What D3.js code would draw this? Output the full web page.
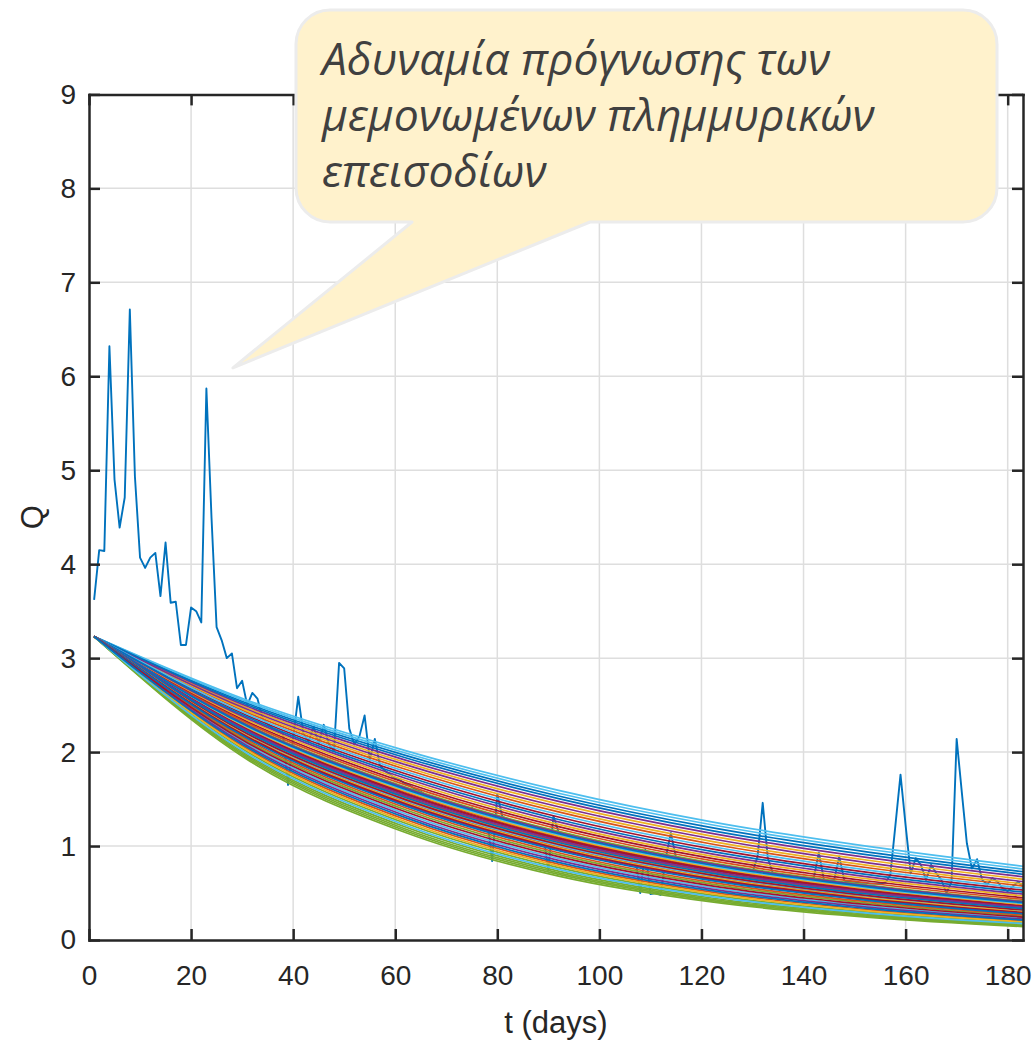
<!DOCTYPE html>
<html>
<head>
<meta charset="utf-8">
<script src="https://cdn.jsdelivr.net/npm/d3@7"></script>
<style>
  body { margin: 0; background: #ffffff; }
  svg { display: block; }
</style>
</head>
<body>
<svg id="chart" width="1033" height="1042"></svg>
<script>
// ---------------- DATA ----------------
const xTicks = [0, 20, 40, 60, 80, 100, 120, 140, 160, 180];
const yTicks = [0, 1, 2, 3, 4, 5, 6, 7, 8, 9];
const xLabel = "t (days)";
const yLabel = "Q";
const calloutLines = ["Αδυναμία πρόγνωσης των", "μεμονωμένων πλημμυρικών", "επεισοδίων"];

// observed discharge, one value per day (t = 1 ... 183)
const observedQ = [
  3.62, 4.15, 4.14, 6.32, 4.90, 4.39, 4.71, 6.71, 4.93, 4.07,
  3.96, 4.07, 4.12, 3.66, 4.23, 3.59, 3.60, 3.14, 3.14, 3.54,
  3.50, 3.38, 5.87, 4.50, 3.33, 3.19, 3.00, 3.05, 2.68, 2.76,
  2.50, 2.63, 2.57, 2.36, 2.30, 2.25, 2.22, 2.20, 1.65, 2.15,
  2.59, 2.20, 2.11, 2.27, 2.09, 2.29, 2.08, 2.02, 2.95, 2.89,
  2.25, 2.08, 2.17, 2.39, 1.92, 2.14, 1.86, 1.80, 1.76, 1.72,
  1.70, 1.66, 1.64, 1.60, 1.58, 1.54, 1.53, 1.50, 1.47, 1.45,
  1.44, 1.42, 1.40, 1.38, 1.41, 1.35, 1.33, 1.30, 0.84, 1.55,
  1.31, 1.29, 1.27, 1.25, 1.22, 1.20, 1.18, 1.16, 1.14, 0.74,
  1.32, 1.15, 1.12, 1.10, 1.08, 1.06, 1.05, 1.03, 1.01, 1.00,
  0.98, 0.97, 0.95, 0.94, 0.92, 0.91, 0.90, 0.50, 0.96, 0.49,
  0.50, 0.48, 0.87, 1.14, 0.88, 0.86, 0.85, 0.84, 0.82, 0.81,
  0.80, 0.79, 0.78, 0.77, 0.76, 0.75, 0.75, 0.74, 0.73, 0.72,
  0.89, 1.46, 0.87, 0.71, 0.70, 0.69, 0.68, 0.68, 0.67, 0.66,
  0.65, 0.66, 0.93, 0.64, 0.63, 0.64, 0.89, 0.63, 0.62, 0.62,
  0.61, 0.61, 0.60, 0.60, 0.60, 0.61, 0.69, 1.22, 1.76, 1.22,
  0.71, 0.87, 0.80, 0.64, 0.80, 0.71, 0.64, 0.50, 0.62, 2.14,
  1.58, 1.03, 0.76, 0.86, 0.64, 0.59, 0.66, 0.62, 0.55, 0.52,
  0.57, 0.62, 0.57
];

// forecast ensemble: days at which each member's values were read
const ensembleDays = [1, 31, 62, 92, 122, 153, 183];
// ensemble members, in plotting order (values at ensembleDays)
const ensembleMembers = [
  [3.23, 2.423, 1.817, 1.363, 1.022, 0.766, 0.575],
  [3.23, 2.471, 1.890, 1.446, 1.106, 0.846, 0.647],
  [3.23, 2.487, 1.915, 1.475, 1.135, 0.874, 0.673],
  [3.23, 2.293, 1.628, 1.156, 0.821, 0.583, 0.414],
  [3.23, 2.552, 2.016, 1.593, 1.258, 0.994, 0.785],
  [3.23, 2.390, 1.769, 1.309, 0.969, 0.717, 0.530],
  [3.23, 2.519, 1.965, 1.533, 1.196, 0.933, 0.727],

  [3.23, 2.309, 1.651, 1.181, 0.844, 0.604, 0.432],
  [3.23, 2.439, 1.841, 1.390, 1.050, 0.792, 0.598],
  [3.23, 2.455, 1.866, 1.418, 1.078, 0.819, 0.622],
  [3.23, 2.116, 1.386, 0.908, 0.595, 0.389, 0.255],
  [3.23, 2.536, 1.990, 1.562, 1.227, 0.963, 0.756],
  [3.23, 2.326, 1.674, 1.206, 0.868, 0.625, 0.450],
  [3.23, 2.503, 1.940, 1.504, 1.165, 0.903, 0.700],

  [3.23, 2.253, 1.572, 1.096, 0.765, 0.534, 0.372],
  [3.23, 2.342, 1.698, 1.231, 0.892, 0.647, 0.469],
  [3.23, 2.358, 1.721, 1.257, 0.917, 0.670, 0.489],
  [3.23, 2.003, 1.242, 0.770, 0.477, 0.296, 0.183],
  [3.23, 2.406, 1.793, 1.336, 0.995, 0.741, 0.552],
  [3.23, 2.245, 1.560, 1.084, 0.754, 0.524, 0.364],
  [3.23, 2.374, 1.745, 1.283, 0.943, 0.693, 0.509],

  [3.23, 2.221, 1.527, 1.050, 0.722, 0.496, 0.342],
  [3.23, 2.261, 1.583, 1.108, 0.776, 0.543, 0.380],
  [3.23, 2.285, 1.617, 1.144, 0.810, 0.573, 0.406],
  [3.23, 1.970, 1.202, 0.733, 0.447, 0.273, 0.166],
  [3.23, 2.269, 1.594, 1.120, 0.787, 0.553, 0.389],
  [3.23, 2.237, 1.549, 1.073, 0.743, 0.515, 0.357],
  [3.23, 2.277, 1.605, 1.132, 0.798, 0.563, 0.397],

  [3.23, 2.180, 1.472, 0.993, 0.671, 0.453, 0.306],
  [3.23, 2.205, 1.505, 1.027, 0.701, 0.479, 0.327],
  [3.23, 2.229, 1.538, 1.061, 0.732, 0.505, 0.349],
  [3.23, 1.954, 1.182, 0.715, 0.433, 0.262, 0.158],
  [3.23, 2.188, 1.483, 1.005, 0.681, 0.462, 0.313],
  [3.23, 2.196, 1.494, 1.016, 0.691, 0.470, 0.319],
  [3.23, 2.213, 1.516, 1.038, 0.711, 0.487, 0.334],

  [3.23, 2.132, 1.407, 0.929, 0.613, 0.405, 0.267],
  [3.23, 2.172, 1.461, 0.982, 0.661, 0.445, 0.299],
  [3.23, 2.156, 1.439, 0.961, 0.642, 0.428, 0.286],
  [3.23, 1.938, 1.163, 0.698, 0.419, 0.251, 0.151],
  [3.23, 2.083, 1.344, 0.867, 0.559, 0.361, 0.233],
  [3.23, 2.164, 1.450, 0.971, 0.651, 0.436, 0.292],
  [3.23, 2.148, 1.428, 0.950, 0.632, 0.420, 0.279],

  [3.23, 2.035, 1.282, 0.808, 0.509, 0.321, 0.202],
  [3.23, 2.019, 1.262, 0.789, 0.493, 0.308, 0.193],
  [3.23, 2.067, 1.323, 0.847, 0.542, 0.347, 0.222],
  [3.23, 1.922, 1.144, 0.680, 0.405, 0.241, 0.143],
  [3.23, 1.986, 1.222, 0.751, 0.462, 0.284, 0.175],
  [3.23, 2.100, 1.365, 0.887, 0.577, 0.375, 0.244],
  [3.23, 2.051, 1.302, 0.827, 0.525, 0.333, 0.212]
];

// callout pointer tip, in data units (t, Q)
const calloutTip = [28.2, 6.09];

// ---------------- LAYOUT / STYLE ----------------
const colorOrder = ["#0072BD", "#D95319", "#EDB120", "#7E2F8E", "#77AC30", "#4DBEEE", "#A2142F"];
const plot = { left: 89, right: 1023, top: 94.4, bottom: 940 };
const axisColor = "#262626";
const gridColor = "#dedede";

const svg = d3.select("#chart");
const x = d3.scaleLinear().domain([0, 183]).range([plot.left, plot.right]);
const y = d3.scaleLinear().domain([0, 9]).range([plot.bottom, plot.top]);

svg.append("defs").append("clipPath").attr("id", "plotClip")
  .append("rect")
  .attr("x", plot.left).attr("y", plot.top)
  .attr("width", plot.right - plot.left).attr("height", plot.bottom - plot.top);

// grid
const grid = svg.append("g");
grid.selectAll("line.gx").data(xTicks.filter(d => d > 0)).join("line")
  .attr("x1", d => x(d)).attr("x2", d => x(d))
  .attr("y1", plot.top).attr("y2", plot.bottom)
  .attr("stroke", gridColor).attr("stroke-width", 1.5);
grid.selectAll("line.gy").data(yTicks.filter(d => d > 0 && d < 9)).join("line")
  .attr("x1", plot.left).attr("x2", plot.right)
  .attr("y1", d => y(d)).attr("y2", d => y(d))
  .attr("stroke", gridColor).attr("stroke-width", 1.5);

const lines = svg.append("g").attr("clip-path", "url(#plotClip)");

// observed series
const obsLine = d3.line().x((d, i) => x(i + 1)).y(d => y(d));
lines.append("path")
  .attr("d", obsLine(observedQ))
  .attr("fill", "none")
  .attr("stroke", colorOrder[0])
  .attr("stroke-width", 1.9)
  .attr("stroke-linejoin", "round");

// ensemble members
const ensLine = d3.line()
  .x((d, i) => x(ensembleDays[i]))
  .y(d => y(d))
  .curve(d3.curveMonotoneX);
lines.selectAll("path.member").data(ensembleMembers).join("path")
  .attr("class", "member")
  .attr("d", d => ensLine(d))
  .attr("fill", "none")
  .attr("stroke", (d, i) => colorOrder[(i + 1) % colorOrder.length])
  .attr("stroke-width", 1.7);

// axes
const tickFont = "'Liberation Sans', Arial, Helvetica, sans-serif";
function styleAxis(g) {
  g.select(".domain").attr("stroke", axisColor).attr("stroke-width", 2.5);
  g.selectAll(".tick line").attr("stroke", axisColor).attr("stroke-width", 2.5);
  g.selectAll(".tick text").attr("fill", axisColor)
    .attr("font-family", tickFont).attr("font-size", 28);
}
svg.append("g").attr("transform", `translate(0,${plot.bottom})`)
  .call(d3.axisBottom(x).tickValues(xTicks).tickSizeInner(-11).tickSizeOuter(0).tickPadding(25))
  .call(styleAxis);
svg.append("g").attr("transform", `translate(0,${plot.top})`)
  .call(d3.axisTop(x).tickValues(xTicks).tickSizeInner(-11).tickSizeOuter(0).tickFormat(""))
  .call(styleAxis);
svg.append("g").attr("transform", `translate(${plot.left},0)`)
  .call(d3.axisLeft(y).tickValues(yTicks).tickSizeInner(-11).tickSizeOuter(0).tickPadding(13))
  .call(styleAxis);
svg.append("g").attr("transform", `translate(${plot.right},0)`)
  .call(d3.axisRight(y).tickValues(yTicks).tickSizeInner(-11).tickSizeOuter(0).tickFormat(""))
  .call(styleAxis);
svg.selectAll(".domain").attr("stroke-linecap", "square");

// axis labels
svg.append("text")
  .attr("x", (plot.left + plot.right) / 2).attr("y", 1033)
  .attr("text-anchor", "middle")
  .attr("font-family", tickFont).attr("font-size", 31).attr("fill", axisColor)
  .text(xLabel);
svg.append("text")
  .attr("transform", `translate(43,${(plot.top + plot.bottom) / 2}) rotate(-90)`)
  .attr("text-anchor", "middle")
  .attr("font-family", tickFont).attr("font-size", 31).attr("fill", axisColor)
  .text(yLabel);

// callout
const box = { left: 296, top: 10, right: 997, bottom: 222, r: 34, tailL: 412, tailR: 590 };
const tipX = x(calloutTip[0]), tipY = y(calloutTip[1]);
const p = d3.path();
p.moveTo(box.left + box.r, box.top);
p.lineTo(box.right - box.r, box.top);
p.arcTo(box.right, box.top, box.right, box.top + box.r, box.r);
p.lineTo(box.right, box.bottom - box.r);
p.arcTo(box.right, box.bottom, box.right - box.r, box.bottom, box.r);
p.lineTo(box.tailR, box.bottom);
p.lineTo(tipX, tipY);
p.lineTo(box.tailL, box.bottom);
p.lineTo(box.left + box.r, box.bottom);
p.arcTo(box.left, box.bottom, box.left, box.bottom - box.r, box.r);
p.lineTo(box.left, box.top + box.r);
p.arcTo(box.left, box.top, box.left + box.r, box.top, box.r);
p.closePath();
svg.append("path")
  .attr("d", p.toString())
  .attr("fill", "#FFF2CC")
  .attr("stroke", "#ececec")
  .attr("stroke-width", 3)
  .attr("stroke-linejoin", "round");

svg.append("g").selectAll("text").data(calloutLines).join("text")
  .attr("x", 322)
  .attr("y", (d, i) => 75 + i * 56)
  .attr("font-family", "'Open Sans', 'Noto Sans', sans-serif")
  .attr("font-style", "italic")
  .attr("font-size", 44.5)
  .attr("fill", "#404040")
  .text(d => d);
</script>
</body>
</html>
